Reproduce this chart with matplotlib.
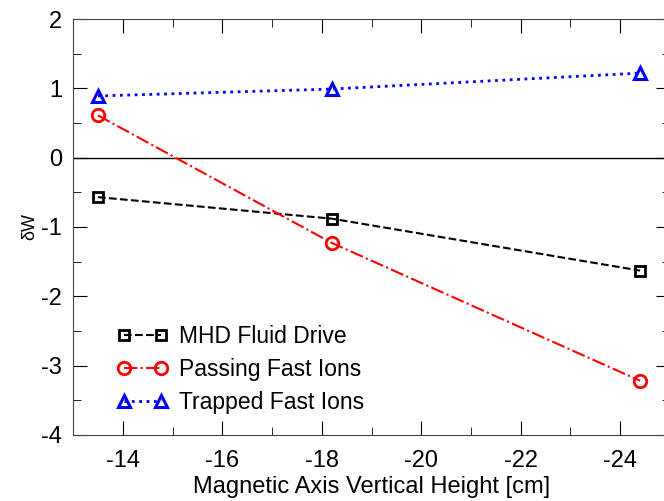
import numpy as np
import matplotlib.pyplot as plt
from matplotlib.ticker import MultipleLocator

plt.rcParams['font.family'] = ['Liberation Sans', 'DejaVu Sans']
plt.rcParams['axes.unicode_minus'] = False

height = [-13.5, -18.2, -24.4]
mhd = [-0.57, -0.88, -1.63]
passing = [0.61, -1.23, -3.22]
trapped = [0.89, 0.99, 1.22]

fig = plt.figure(figsize=(6.64, 5.01), dpi=100)
ax = fig.add_axes([0.11, 0.132, 0.899, 0.83])

ax.axhline(0, color='black', lw=1)
ax.plot(height, mhd, 'k--', marker='s', ms=7, mfc='none', mew=2, lw=1.5,
        label='MHD Fluid Drive')
ax.plot(height, passing, color='red', ls='-.', marker='o', ms=9, mfc='none',
        mew=2, lw=1.5, label='Passing Fast Ions')
ax.plot(height, trapped, color='blue', ls=':', marker='^', ms=9, mfc='none',
        mew=2.2, lw=2, label='Trapped Fast Ions')

ax.set_xlim(-13, -25)
ax.set_ylim(-4, 2)
ax.xaxis.set_major_locator(MultipleLocator(2))
ax.xaxis.set_minor_locator(MultipleLocator(1))
ax.yaxis.set_major_locator(MultipleLocator(1))
ax.yaxis.set_minor_locator(MultipleLocator(0.5))
ax.tick_params(which='both', direction='in', top=True, right=True, labelsize=17)
ax.tick_params(which='major', length=10, pad=8)
ax.tick_params(axis='x', which='major', pad=11)
ax.tick_params(which='minor', length=6)
for s in ax.spines.values():
    s.set_color('#444444')

ax.set_xlabel('Magnetic Axis Vertical Height [cm]', fontsize=17, labelpad=3)
ax.set_ylabel('δW', fontsize=13, labelpad=2)

ax.legend(loc='lower left', frameon=False, fontsize=16.5, numpoints=2,
          handlelength=2.2, labelspacing=0.45, handletextpad=0.5,
          bbox_to_anchor=(0.04, 0.0))

fig.savefig('out.png', dpi=100)
